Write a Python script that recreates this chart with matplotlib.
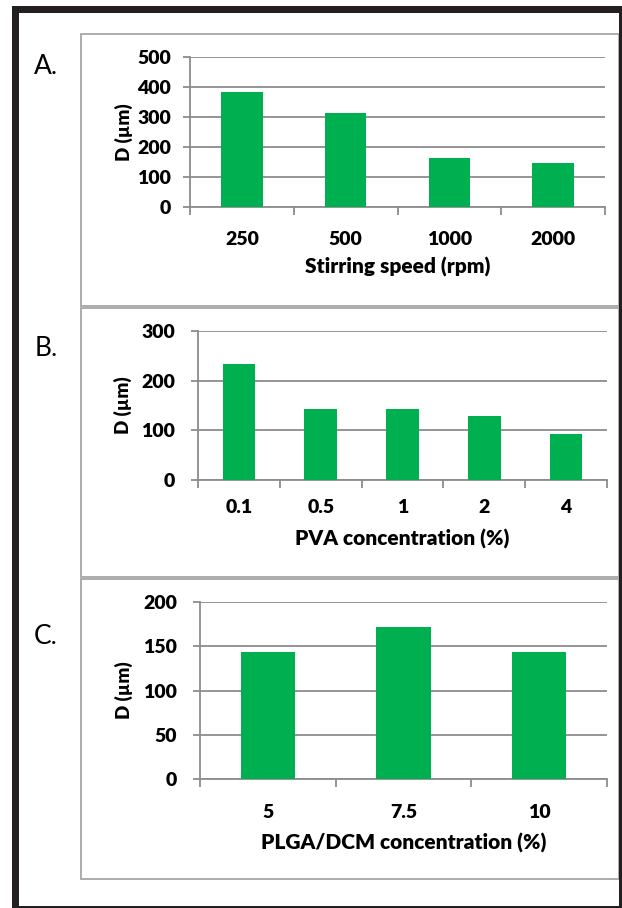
import matplotlib
matplotlib.use("Agg")
import matplotlib.pyplot as plt
from matplotlib.patches import Rectangle

plt.rcParams["font.family"] = ["Lato", "DejaVu Sans"]

# Data
speed_labels = ["250", "500", "1000", "2000"]
speed_d = [385, 314, 165, 148]

pva_labels = ["0.1", "0.5", "1", "2", "4"]
pva_d = [234, 142, 142, 129, 93]

plga_labels = ["5", "7.5", "10"]
plga_d = [143, 172, 144]

W, H = 622, 908
GREEN = "#00B050"
GRID = "#8c8c8c"
BOX = "#a6a6a6"
FRAME = "#231f20"
PT = 0.72  # points per pixel at dpi 100
WEIGHT = "heavy"

fig = plt.figure(figsize=(W / 100, H / 100), dpi=100)


def rect(x0, y0, x1, y1):
    return [x0 / W, 1 - y1 / H, (x1 - x0) / W, (y1 - y0) / H]


def box(x0, y0, x1, y1, color, lw, fill=False):
    fig.add_artist(Rectangle((x0 / W, 1 - y1 / H), (x1 - x0) / W, (y1 - y0) / H,
                             transform=fig.transFigure, fill=fill,
                             facecolor=color if fill else "none",
                             edgecolor="none" if fill else color, linewidth=lw))


# panel boxes
box(81, 34, 619, 306, BOX, 1.3)
box(81, 308, 619, 577, BOX, 1.3)
box(81, 579, 619, 879, BOX, 1.3)

# outer black frame
box(12, 6, 622, 13, FRAME, 0, fill=True)
box(12, 6, 19, 908, FRAME, 0, fill=True)
box(619, 6, 622, 908, FRAME, 0, fill=True)
box(12, 906, 622, 908, FRAME, 0, fill=True)

panels = [
    dict(labels=speed_labels, values=speed_d, ymax=500, step=100,
         px=(190, 57, 605, 207), pad=16, ypad=12, xl_top=257, yl_right=133,
         letter="A.", lpos=(46, 67), xlabel="Stirring speed (rpm)"),
    dict(labels=pva_labels, values=pva_d, ymax=300, step=100,
         px=(198, 331, 607, 480), pad=11, ypad=16, xl_top=529, yl_right=132,
         letter="B.", lpos=(46, 349), xlabel="PVA concentration (%)"),
    dict(labels=plga_labels, values=plga_d, ymax=200, step=50,
         px=(200, 602, 607, 779), pad=17, ypad=16, xl_top=833, yl_right=133,
         letter="C.", lpos=(46, 637), xlabel="PLGA/DCM concentration (%)"),
]

for p in panels:
    x0, y0, x1, y1 = p["px"]
    ax = fig.add_axes(rect(x0, y0, x1, y1))
    n = len(p["labels"])
    pos = list(range(n))
    ax.bar(pos, p["values"], width=0.4, color=GREEN, zorder=3)
    ax.set_xlim(-0.5, n - 0.5)
    ax.set_ylim(0, p["ymax"])
    ax.set_yticks(range(0, p["ymax"] + 1, p["step"]))
    ax.set_xticks(pos)
    ax.set_xticklabels(p["labels"])
    ax.set_xticks([i - 0.5 for i in range(n + 1)], minor=True)
    ax.grid(axis="y", color=GRID, linewidth=1.3, zorder=0)
    ax.set_axisbelow(True)
    for s in ["top", "right"]:
        ax.spines[s].set_visible(False)
    for s in ["left", "bottom"]:
        ax.spines[s].set_color(GRID)
        ax.spines[s].set_linewidth(1.3)
    ax.tick_params(axis="x", which="major", length=0, pad=(p["pad"] + 8) * PT,
                   labelsize=14)
    ax.tick_params(axis="x", which="minor", length=8 * PT, width=1.3,
                   color=GRID, direction="out")
    ax.tick_params(axis="y", length=7 * PT, width=1.3, color=GRID,
                   pad=p["ypad"] * PT, labelsize=14)
    for t in ax.get_xticklabels() + ax.get_yticklabels():
        t.set_fontweight(WEIGHT)

    ax.set_xlabel(p["xlabel"], fontsize=15, fontweight=WEIGHT)
    ax.xaxis.set_label_coords(0.5, (y1 - p["xl_top"]) / (y1 - y0))
    ax.set_ylabel("D (µm)", fontsize=13.5, fontweight=WEIGHT)
    ax.yaxis.set_label_coords((p["yl_right"] - x0) / (x1 - x0), 0.5)

    lx, ly = p["lpos"]
    fig.text(lx / W, 1 - ly / H, p["letter"], fontsize=19,
             ha="center", va="center")

fig.savefig("out.png", dpi=100)
